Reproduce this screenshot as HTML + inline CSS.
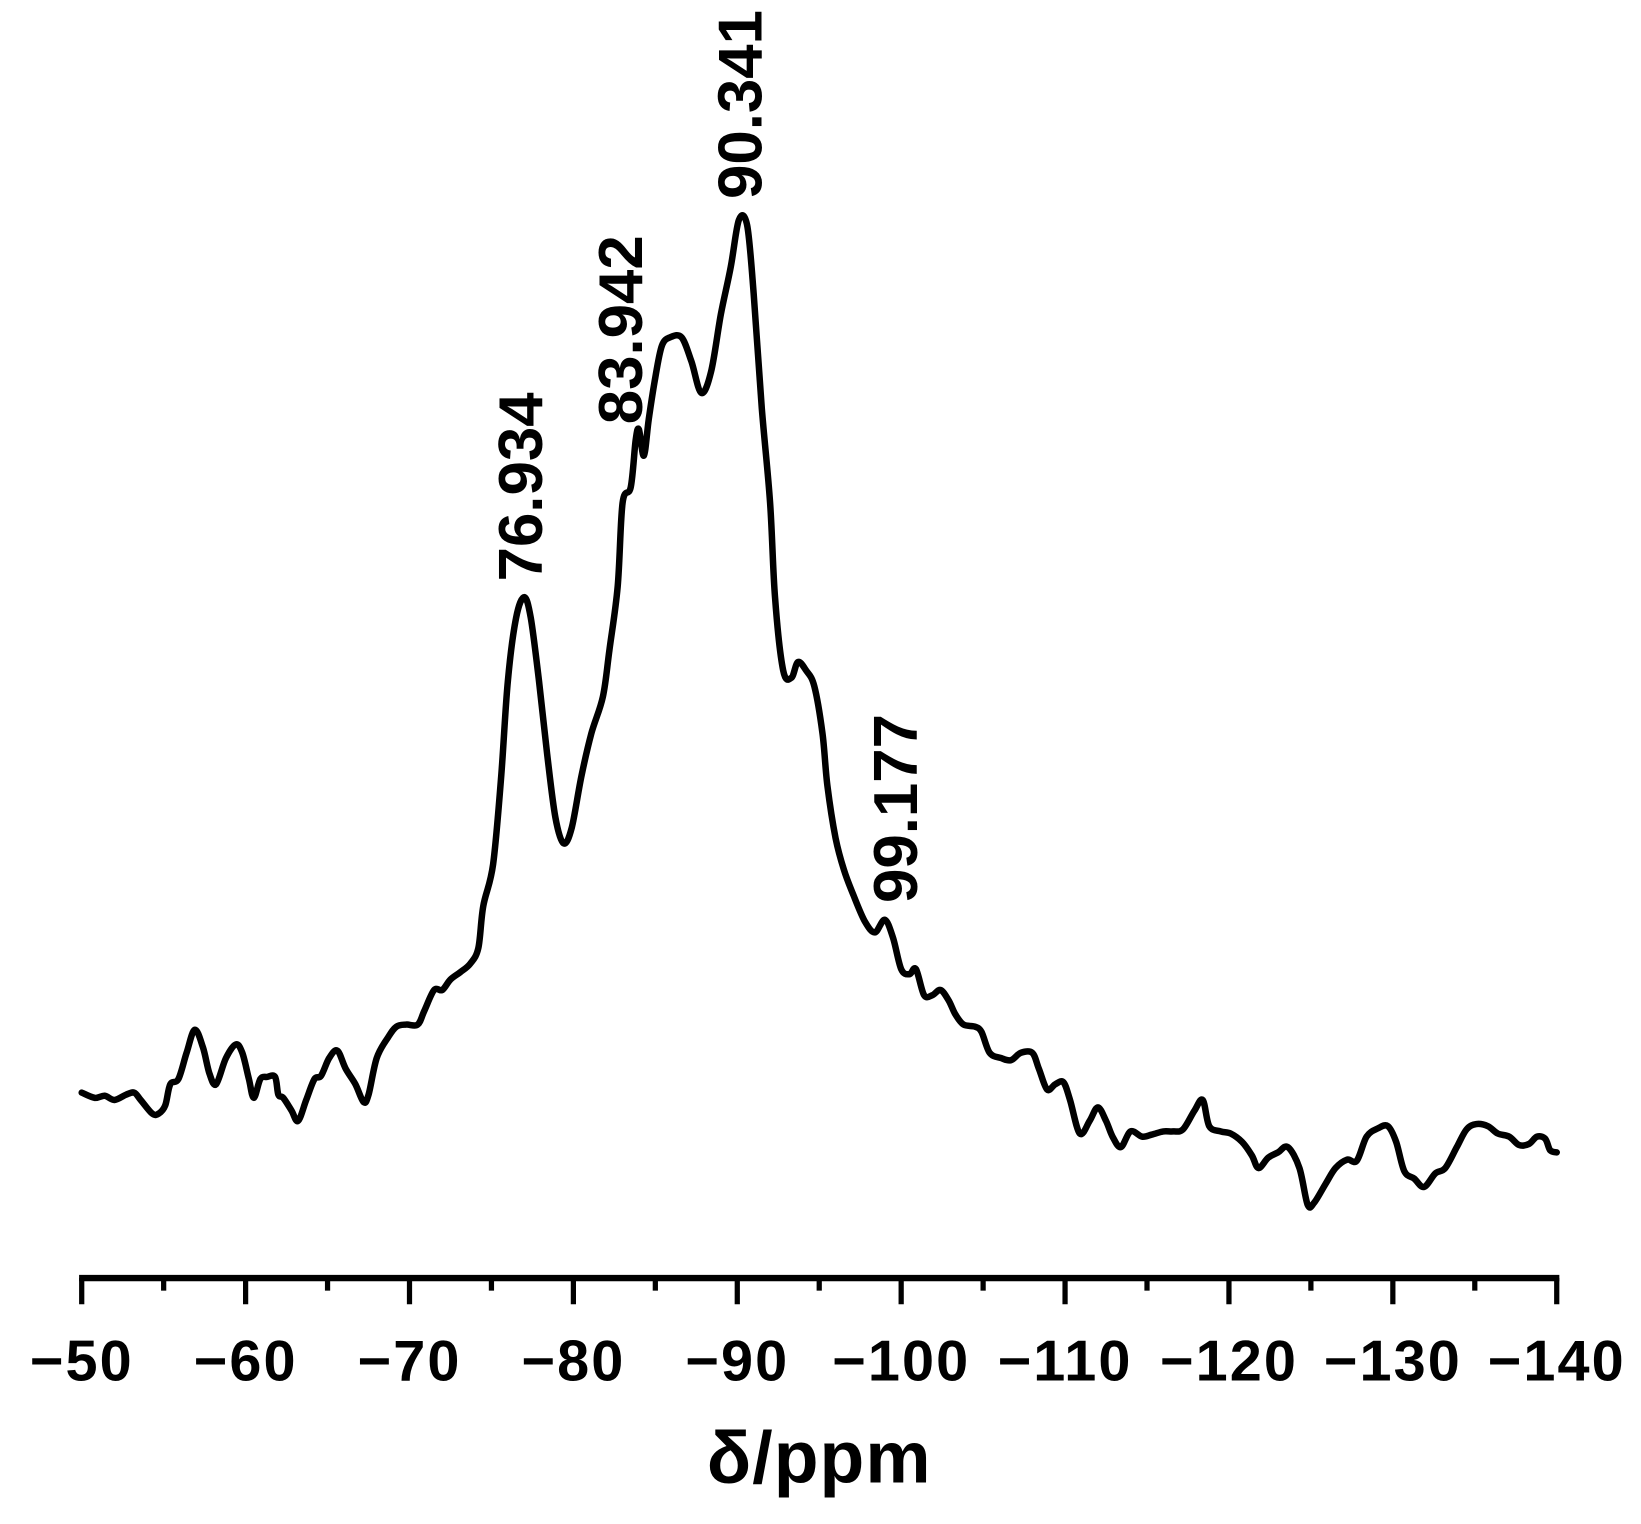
<!DOCTYPE html>
<html><head><meta charset="utf-8"><style>
html,body{margin:0;padding:0;background:#fff;}
svg{display:block;font-family:"Liberation Sans",sans-serif;}
</style></head><body>
<svg id="chart" width="1641" height="1524" viewBox="0 0 1641 1524" xmlns="http://www.w3.org/2000/svg">
<g transform="scale(1.0476)">
<g id="axis"></g>
<g id="plot"></g>
<text x="782" y="1415" text-anchor="middle" font-size="70" font-weight="bold" letter-spacing="1">δ/ppm</text>
</g>
</svg>
<script>
const ppm = [-50.0,-50.8,-51.4,-52.0,-52.7,-53.2,-53.6,-54.3,-54.7,-55.1,-55.4,-55.9,-56.4,-56.9,-57.4,-57.8,-58.2,-58.8,-59.4,-59.8,-60.2,-60.5,-60.9,-61.3,-61.8,-62.0,-62.3,-62.8,-63.2,-63.7,-64.2,-64.6,-65.1,-65.6,-66.1,-66.7,-67.2,-67.5,-68.0,-68.7,-69.2,-69.8,-70.5,-70.9,-71.5,-72.0,-72.5,-73.1,-73.7,-74.2,-74.5,-75.1,-75.6,-76.0,-76.5,-77.0,-77.4,-77.9,-78.4,-78.9,-79.4,-79.9,-80.5,-81.1,-81.8,-82.2,-82.7,-83.0,-83.5,-83.8,-84.0,-84.3,-84.6,-85.0,-85.4,-85.9,-86.6,-87.2,-87.8,-88.4,-89.0,-89.6,-90.1,-90.6,-91.0,-91.5,-92.0,-92.3,-92.8,-93.3,-93.7,-94.2,-94.7,-95.2,-95.5,-96.0,-96.5,-97.1,-97.8,-98.4,-99.0,-99.5,-100.0,-100.5,-100.9,-101.4,-101.9,-102.4,-102.9,-103.3,-103.8,-104.5,-104.9,-105.4,-106.1,-106.7,-107.3,-108.0,-108.4,-108.9,-109.4,-109.9,-110.3,-110.9,-111.5,-112.0,-112.5,-112.9,-113.4,-114.0,-114.7,-115.3,-116.0,-116.6,-117.2,-117.9,-118.4,-118.8,-119.5,-120.1,-120.8,-121.4,-121.8,-122.4,-123.0,-123.6,-124.3,-124.8,-125.2,-125.9,-126.5,-127.2,-127.8,-128.4,-129.1,-129.7,-130.2,-130.7,-131.3,-131.9,-132.6,-133.2,-133.9,-134.5,-135.1,-135.8,-136.4,-137.1,-137.7,-138.3,-138.8,-139.3,-139.6,-140.0];
const intensity = [177,172,174,170,175,177,170,157,157,165,185,190,215,237,220,195,185,210,223,215,190,172,190,192,192,175,172,160,150,170,190,193,210,217,200,185,168,175,210,230,240,242,242,255,275,275,285,292,300,315,355,395,480,570,630,650,630,570,500,440,415,430,480,520,555,600,660,740,755,800,810,785,820,860,890,898,898,875,845,865,920,965,1010,1005,940,830,740,650,580,573,588,580,565,520,470,420,390,365,340,330,342,325,295,290,295,270,270,275,265,252,242,240,235,215,210,208,215,215,200,180,185,187,170,138,150,163,150,135,125,140,135,137,140,140,142,160,170,145,140,138,130,117,105,115,120,125,105,70,72,90,105,113,112,135,143,145,130,102,95,87,100,105,125,142,147,145,138,135,127,128,135,133,122,120];
const peakLabels = ["76.934","83.942","90.341","99.177"];
const peakPpm = [-76.934,-83.942,-90.341,-99.177];
const peakLabelIntensity = [665,815,1030,358];
const tickValues = [-50,-60,-70,-80,-90,-100,-110,-120,-130,-140];
const tickLabels = ["\u221250","\u221260","\u221270","\u221280","\u221290","\u2212100","\u2212110","\u2212120","\u2212130","\u2212140"];

const NS="http://www.w3.org/2000/svg";
const X0=78,X1=1486,AXY=1220;
const labelNudge=[18,4,18,28];
function xs(p){return X0+(p-(-50))/(-140-(-50))*(X1-X0);}
function ys(v){return AXY-v;}
function mk(t,a){const e=document.createElementNS(NS,t);for(const k in a)e.setAttribute(k,a[k]);return e;}
const axis=document.getElementById('axis'),plot=document.getElementById('plot');

const line=mk('line',{x1:X0-2.5,x2:X1+2.5,y1:AXY,y2:AXY,stroke:'#000','stroke-width':6});


axis.appendChild(line);
for(let v=-50;v>=-140;v-=5){
  const major=(v%10===0);
  const t=mk('line',{x1:xs(v),x2:xs(v),y1:AXY,y2:AXY+(major?25:12),stroke:'#000','stroke-width':5});
  
  
  axis.appendChild(t);
}
tickValues.forEach((v,i)=>{
  const t=mk('text',{x:xs(v),y:1318,'text-anchor':'middle','font-size':55,'font-weight':'bold','letter-spacing':'2'});
  t.textContent=tickLabels[i];
  
  
  axis.appendChild(t);
});

const pts=ppm.map((p,i)=>[xs(p),ys(intensity[i])]);
let d='M'+pts[0][0].toFixed(1)+' '+pts[0][1].toFixed(1);
for(let i=0;i<pts.length-1;i++){
  const p0=pts[Math.max(0,i-1)],p1=pts[i],p2=pts[i+1],p3=pts[Math.min(pts.length-1,i+2)];
  const c1=[p1[0]+(p2[0]-p0[0])/6,p1[1]+(p2[1]-p0[1])/6];
  const c2=[p2[0]-(p3[0]-p1[0])/6,p2[1]-(p3[1]-p1[1])/6];
  d+='C'+c1.map(n=>n.toFixed(1)).join(' ')+' '+c2.map(n=>n.toFixed(1)).join(' ')+' '+p2[0].toFixed(1)+' '+p2[1].toFixed(1);
}
const path=mk('path',{d:d,fill:'none',stroke:'#000','stroke-width':6.2,'stroke-linejoin':'round','stroke-linecap':'round'});


plot.appendChild(path);

peakLabels.forEach((s,i)=>{
  const x=xs(peakPpm[i])+labelNudge[i],y=ys(peakLabelIntensity[i]);
  const t=mk('text',{x:x,y:y,'font-size':59,'font-weight':'bold',transform:`rotate(-90 ${x} ${y})`});
  t.textContent=s;
  
  
  plot.appendChild(t);
});
</script>
</body></html>
